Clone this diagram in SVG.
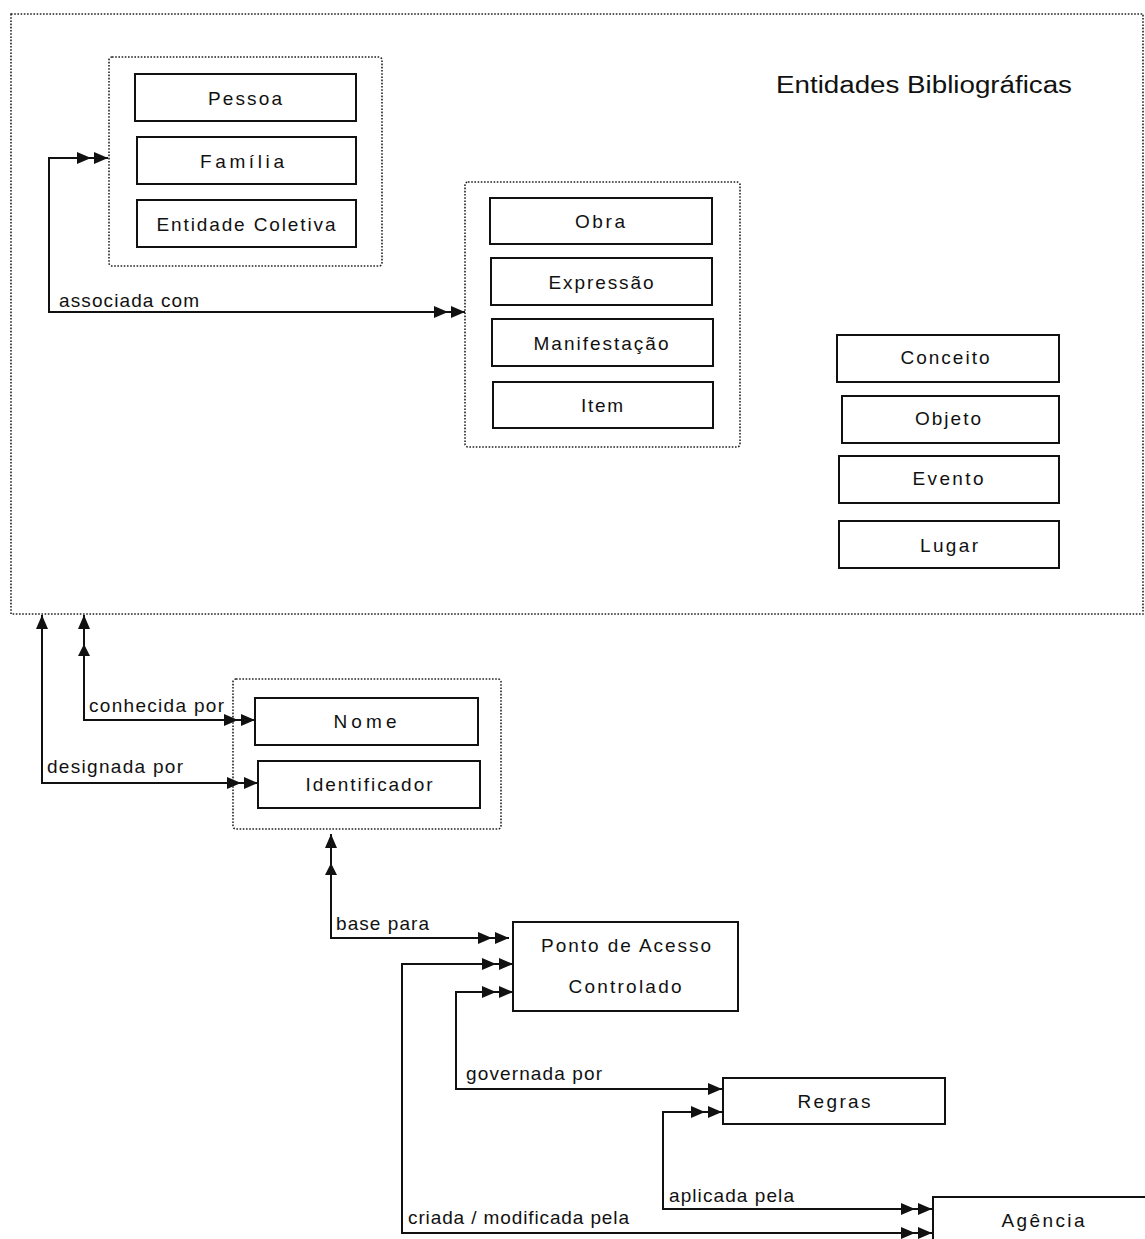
<svg xmlns="http://www.w3.org/2000/svg" width="1145" height="1239" viewBox="0 0 1145 1239">
<style>
.box{fill:#fff;stroke:#111;stroke-width:2}
.grp{fill:none;stroke:#222;stroke-width:1.6;stroke-dasharray:1.6 1.6}
.lbl{font-family:"Liberation Sans",Arial,sans-serif;font-size:19px;fill:#111;text-anchor:middle}
.elbl{font-family:"Liberation Sans",Arial,sans-serif;font-size:19px;fill:#111}
.ttl{font-family:"Liberation Sans",Arial,sans-serif;font-size:23px;fill:#111}
.con{fill:none;stroke:#111;stroke-width:2}
</style>
<defs>
<marker id="a1" markerUnits="userSpaceOnUse" markerWidth="14" markerHeight="14" refX="14" refY="7" orient="auto-start-reverse"><path d="M0,1 L14,7 L0,13 Z" fill="#111"/></marker>
<marker id="a2" markerUnits="userSpaceOnUse" markerWidth="31" markerHeight="14" refX="31" refY="7" orient="auto-start-reverse"><path d="M17,1 L31,7 L17,13 Z M0,1 L14,7 L0,13 Z" fill="#111"/></marker>
<marker id="a2s" markerUnits="userSpaceOnUse" markerWidth="43" markerHeight="14" refX="43" refY="7" orient="auto-start-reverse"><path d="M29,1 L43,7 L29,13 Z M2,1 L14,7 L2,13 Z" fill="#111"/></marker>
</defs>
<rect width="1145" height="1239" fill="#fff"/>

<g id="entidades-bibliograficas">
<rect class="grp" x="11" y="14" width="1132" height="600"/>
<text class="ttl" x="776" y="93" textLength="296" lengthAdjust="spacingAndGlyphs">Entidades Bibliográficas</text>
</g>

<g id="grupo-agentes">
<rect class="grp" x="109" y="57" width="273" height="209" rx="3"/>
<g id="pessoa"><rect class="box" x="135" y="74" width="221" height="47"/><text class="lbl" x="245" y="105" textLength="74" lengthAdjust="spacing">Pessoa</text></g>
<g id="familia"><rect class="box" x="137" y="137" width="219" height="47"/><text class="lbl" x="242" y="168" textLength="84" lengthAdjust="spacing">Família</text></g>
<g id="entidade-coletiva"><rect class="box" x="137" y="200" width="219" height="47"/><text class="lbl" x="246" y="231" textLength="179" lengthAdjust="spacing">Entidade Coletiva</text></g>
</g>

<g id="grupo-obras">
<rect class="grp" x="465" y="182" width="275" height="265" rx="3"/>
<g id="obra"><rect class="box" x="490" y="198" width="222" height="46"/><text class="lbl" x="600" y="228" textLength="50" lengthAdjust="spacing">Obra</text></g>
<g id="expressao"><rect class="box" x="491" y="258" width="221" height="47"/><text class="lbl" x="601" y="289" textLength="105" lengthAdjust="spacing">Expressão</text></g>
<g id="manifestacao"><rect class="box" x="492" y="319" width="221" height="47"/><text class="lbl" x="601" y="350" textLength="135" lengthAdjust="spacing">Manifestação</text></g>
<g id="item"><rect class="box" x="493" y="382" width="220" height="46"/><text class="lbl" x="602" y="412" textLength="42" lengthAdjust="spacing">Item</text></g>
</g>

<g id="grupo-assuntos">
<g id="conceito"><rect class="box" x="837" y="335" width="222" height="47"/><text class="lbl" x="945" y="364" textLength="89" lengthAdjust="spacing">Conceito</text></g>
<g id="objeto"><rect class="box" x="842" y="396" width="217" height="47"/><text class="lbl" x="948" y="425" textLength="66" lengthAdjust="spacing">Objeto</text></g>
<g id="evento"><rect class="box" x="839" y="456" width="220" height="47"/><text class="lbl" x="948" y="485" textLength="71" lengthAdjust="spacing">Evento</text></g>
<g id="lugar"><rect class="box" x="839" y="521" width="220" height="47"/><text class="lbl" x="949" y="552" textLength="58" lengthAdjust="spacing">Lugar</text></g>
</g>

<g id="grupo-nomes">
<rect class="grp" x="233" y="679" width="268" height="150" rx="3"/>
<g id="nome"><rect class="box" x="255" y="698" width="223" height="47"/><text class="lbl" x="365" y="728" textLength="63" lengthAdjust="spacing">Nome</text></g>
<g id="identificador"><rect class="box" x="258" y="761" width="222" height="47"/><text class="lbl" x="369" y="791" textLength="127" lengthAdjust="spacing">Identificador</text></g>
</g>

<g id="ponto-de-acesso"><rect class="box" x="513" y="922" width="225" height="89"/>
<text class="lbl" x="626" y="952" textLength="170" lengthAdjust="spacing">Ponto de Acesso</text>
<text class="lbl" x="625" y="993" textLength="113" lengthAdjust="spacing">Controlado</text></g>

<g id="regras"><rect class="box" x="723" y="1078" width="222" height="46"/><text class="lbl" x="834" y="1108" textLength="73" lengthAdjust="spacing">Regras</text></g>

<g id="agencia"><rect class="box" x="933" y="1197" width="260" height="80"/><text class="lbl" x="1043" y="1227" textLength="83" lengthAdjust="spacing">Agência</text></g>

<g id="connectors">
<path class="con" d="M465,312 L49,312 L49,158 L108,158" marker-start="url(#a2)" marker-end="url(#a2)"/>
<text class="elbl" x="59" y="307" textLength="140" lengthAdjust="spacing">associada com</text>

<path class="con" d="M84,615 L84,720 L255,720" marker-start="url(#a2s)" marker-end="url(#a2)"/>
<text class="elbl" x="89" y="712" textLength="135" lengthAdjust="spacing">conhecida por</text>

<path class="con" d="M42,615 L42,783 L258,783" marker-start="url(#a1)" marker-end="url(#a2)"/>
<text class="elbl" x="47" y="773" textLength="136" lengthAdjust="spacing">designada por</text>

<path class="con" d="M331,834 L331,938 L509,938" marker-start="url(#a2s)" marker-end="url(#a2)"/>
<text class="elbl" x="336" y="930" textLength="93" lengthAdjust="spacing">base para</text>

<path class="con" d="M513,964 L402,964 L402,1233 L932,1233" marker-start="url(#a2)" marker-end="url(#a2)"/>
<text class="elbl" x="408" y="1224" textLength="221" lengthAdjust="spacing">criada / modificada pela</text>

<path class="con" d="M513,992 L456,992 L456,1089 L722,1089" marker-start="url(#a2)" marker-end="url(#a1)"/>
<text class="elbl" x="466" y="1080" textLength="136" lengthAdjust="spacing">governada por</text>

<path class="con" d="M722,1112 L663,1112 L663,1209 L932,1209" marker-start="url(#a2)" marker-end="url(#a2)"/>
<text class="elbl" x="669" y="1202" textLength="125" lengthAdjust="spacing">aplicada pela</text>
</g>
</svg>
